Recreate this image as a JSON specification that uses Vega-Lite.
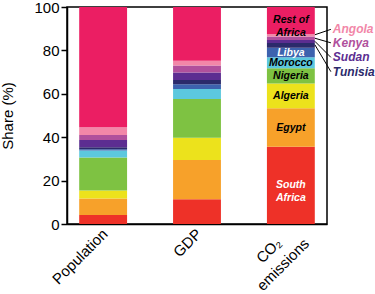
{
  "$schema": "https://vega.github.io/schema/vega-lite/v6.json",
  "width": 260,
  "height": 217,
  "autosize": "none",
  "padding": {"left": 67, "top": 7, "right": 48, "bottom": 70},
  "config": {
    "view": {"stroke": "black", "strokeWidth": 1.5},
    "font": "Liberation Sans",
    "text": {"lineBreak": "\n"}
  },
  "datasets": {
    "shares": [
      {"cat": "Population", "country": "South Africa", "v": 4.1, "k": 1, "lab": ""},
      {"cat": "Population", "country": "Egypt", "v": 7.7, "k": 2, "lab": ""},
      {"cat": "Population", "country": "Algeria", "v": 3.6, "k": 3, "lab": ""},
      {"cat": "Population", "country": "Nigeria", "v": 15.3, "k": 4, "lab": ""},
      {"cat": "Population", "country": "Morocco", "v": 3.2, "k": 5, "lab": ""},
      {"cat": "Population", "country": "Libya", "v": 0.5, "k": 6, "lab": ""},
      {"cat": "Population", "country": "Tunisia", "v": 1.0, "k": 7, "lab": ""},
      {"cat": "Population", "country": "Sudan", "v": 3.3, "k": 8, "lab": ""},
      {"cat": "Population", "country": "Kenya", "v": 2.3, "k": 9, "lab": ""},
      {"cat": "Population", "country": "Angola", "v": 3.6, "k": 10, "lab": ""},
      {"cat": "Population", "country": "Rest of Africa", "v": 55.4, "k": 11, "lab": ""},
      {"cat": "GDP", "country": "South Africa", "v": 11.4, "k": 1, "lab": ""},
      {"cat": "GDP", "country": "Egypt", "v": 18.1, "k": 2, "lab": ""},
      {"cat": "GDP", "country": "Algeria", "v": 10.3, "k": 3, "lab": ""},
      {"cat": "GDP", "country": "Nigeria", "v": 17.8, "k": 4, "lab": ""},
      {"cat": "GDP", "country": "Morocco", "v": 4.6, "k": 5, "lab": ""},
      {"cat": "GDP", "country": "Libya", "v": 2.2, "k": 6, "lab": ""},
      {"cat": "GDP", "country": "Tunisia", "v": 2.0, "k": 7, "lab": ""},
      {"cat": "GDP", "country": "Sudan", "v": 3.4, "k": 8, "lab": ""},
      {"cat": "GDP", "country": "Kenya", "v": 3.2, "k": 9, "lab": ""},
      {"cat": "GDP", "country": "Angola", "v": 2.2, "k": 10, "lab": ""},
      {"cat": "GDP", "country": "Rest of Africa", "v": 24.8, "k": 11, "lab": ""},
      {"cat": "CO₂ emissions", "country": "South Africa", "v": 35.6, "k": 1, "lab": "South\nAfrica"},
      {"cat": "CO₂ emissions", "country": "Egypt", "v": 17.7, "k": 2, "lab": "Egypt"},
      {"cat": "CO₂ emissions", "country": "Algeria", "v": 11.5, "k": 3, "lab": "Algeria"},
      {"cat": "CO₂ emissions", "country": "Nigeria", "v": 7.0, "k": 4, "lab": "Nigeria"},
      {"cat": "CO₂ emissions", "country": "Morocco", "v": 5.0, "k": 5, "lab": "Morocco"},
      {"cat": "CO₂ emissions", "country": "Libya", "v": 4.4, "k": 6, "lab": "Libya"},
      {"cat": "CO₂ emissions", "country": "Tunisia", "v": 2.2, "k": 7, "lab": ""},
      {"cat": "CO₂ emissions", "country": "Sudan", "v": 1.4, "k": 8, "lab": ""},
      {"cat": "CO₂ emissions", "country": "Kenya", "v": 1.6, "k": 9, "lab": ""},
      {"cat": "CO₂ emissions", "country": "Angola", "v": 1.2, "k": 10, "lab": ""},
      {"cat": "CO₂ emissions", "country": "Rest of Africa", "v": 12.4, "k": 11, "lab": "Rest of\nAfrica"}
    ],
    "callouts": [
      {"cat": "CO₂ emissions", "country": "Angola", "sy": 87.2, "ly": 89.7},
      {"cat": "CO₂ emissions", "country": "Kenya", "sy": 85.6, "ly": 83.5},
      {"cat": "CO₂ emissions", "country": "Sudan", "sy": 84.2, "ly": 76.8},
      {"cat": "CO₂ emissions", "country": "Tunisia", "sy": 82.6, "ly": 70.2}
    ]
  },
  "layer": [
    {
      "data": {"name": "shares"},
      "mark": {"type": "bar"},
      "encoding": {
        "x": {
          "field": "cat", "type": "nominal",
          "sort": ["Population", "GDP", "CO₂ emissions"],
          "scale": {"paddingInner": 0.49, "paddingOuter": 0.13},
          "axis": {
            "title": null,
            "ticks": false,
            "labelAngle": -45,
            "labelAlign": {"condition": {"test": "datum.value === 'CO₂ emissions'", "value": "center"}, "value": "right"},
            "labelBaseline": "middle",
            "labelPadding": {"condition": {"test": "datum.value === 'CO₂ emissions'", "value": 26}, "value": 7},
            "labelOffset": {"condition": {"test": "datum.value === 'CO₂ emissions'", "value": -22}, "value": 2},
            "labelExpr": "datum.value === 'CO₂ emissions' ? ['CO₂', 'emissions'] : datum.label",
            "labelLineHeight": 20,
            "labelFontSize": 15,
            "labelColor": "black",
            "labelOverlap": false,
            "domainColor": "black",
            "domainWidth": 1.5
          }
        },
        "y": {
          "field": "v", "type": "quantitative", "stack": "zero",
          "scale": {"domain": [0, 100], "nice": false},
          "axis": {
            "title": "Share (%)",
            "values": [0, 10, 20, 30, 40, 50, 60, 70, 80, 90, 100],
            "labelExpr": "datum.value % 20 === 0 ? datum.label : ''",
            "grid": false,
            "tickSize": 6,
            "tickColor": "black",
            "tickWidth": 1.5,
            "labelFontSize": 15,
            "labelColor": "black",
            "labelPadding": 2,
            "titleFontSize": 15,
            "titleFontWeight": "normal",
            "titleColor": "black",
            "titlePadding": 18,
            "domainColor": "black",
            "domainWidth": 1.5
          }
        },
        "color": {
          "field": "country", "type": "nominal",
          "scale": {
            "domain": ["South Africa", "Egypt", "Algeria", "Nigeria", "Morocco", "Libya", "Tunisia", "Sudan", "Kenya", "Angola", "Rest of Africa"],
            "range": ["#EE3128", "#F7A12A", "#ECE21C", "#7EC242", "#5CC8DE", "#3D62AE", "#2B2A6B", "#5C2D91", "#B0509C", "#F287A8", "#EB1E63"]
          },
          "legend": null
        },
        "order": {"field": "k", "type": "quantitative"}
      }
    },
    {
      "data": {"name": "shares"},
      "transform": [
        {"filter": "datum.cat === 'CO₂ emissions'"},
        {"stack": "v", "groupby": ["cat"], "sort": [{"field": "k", "order": "ascending"}], "as": ["y0", "y1"]},
        {"fold": ["y0", "y1"], "as": ["edge", "yy"]},
        {"aggregate": [{"op": "mean", "field": "yy", "as": "ym"}], "groupby": ["cat", "country", "lab"]}
      ],
      "mark": {"type": "text", "fontSize": 10.5, "fontWeight": "bold", "fontStyle": "italic", "lineHeight": 12.5},
      "encoding": {
        "x": {"field": "cat", "type": "nominal", "sort": ["Population", "GDP", "CO₂ emissions"]},
        "y": {"field": "ym", "type": "quantitative"},
        "text": {"field": "lab"},
        "color": {"condition": {"test": "datum.country === 'South Africa' || datum.country === 'Libya'", "value": "white"}, "value": "black"}
      }
    },
    {
      "data": {"name": "callouts"},
      "mark": {"type": "rule", "xOffset": 24, "x2Offset": 40, "color": "black", "strokeWidth": 1},
      "encoding": {
        "x": {"field": "cat", "type": "nominal", "sort": ["Population", "GDP", "CO₂ emissions"]},
        "x2": {"field": "cat"},
        "y": {"field": "sy", "type": "quantitative"},
        "y2": {"field": "ly"}
      }
    },
    {
      "data": {"name": "callouts"},
      "mark": {"type": "text", "align": "left", "dx": 42, "fontSize": 12, "fontWeight": "bold", "fontStyle": "italic"},
      "encoding": {
        "x": {"field": "cat", "type": "nominal", "sort": ["Population", "GDP", "CO₂ emissions"]},
        "y": {"field": "ly", "type": "quantitative"},
        "text": {"field": "country"},
        "color": {"field": "country", "type": "nominal"}
      }
    }
  ]
}
